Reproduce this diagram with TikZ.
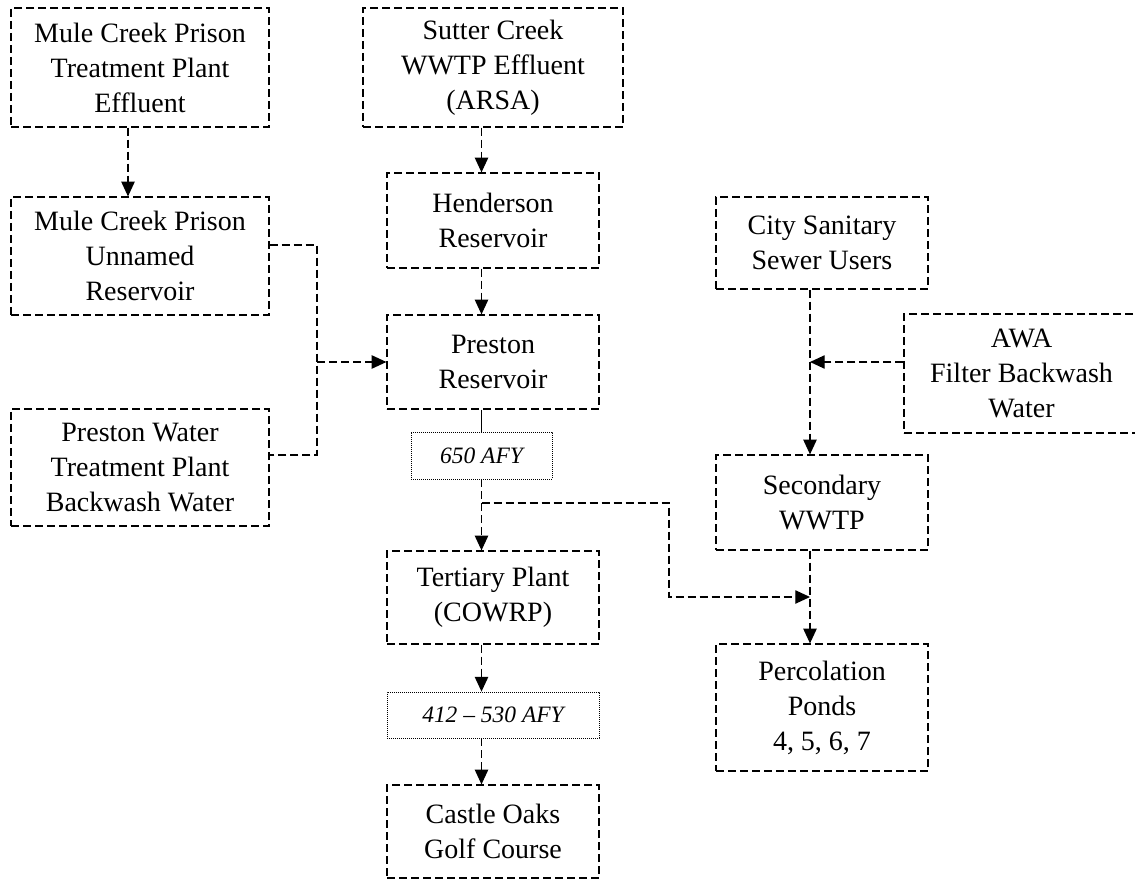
\documentclass[tikz,border=0pt]{standalone}
\usepackage{fontspec}
\setmainfont{Liberation Serif}
\usetikzlibrary{arrows.meta}
\begin{document}
\begin{tikzpicture}[x=0.75pt, y=-0.75pt,
	wh/.style 2 args = {minimum width=#1*0.75pt, minimum height=#2*0.75pt},
	box/.style = {draw, dash pattern=on 6pt off 3pt, line width=0.9pt, inner sep=0pt, align=center, font=\fontsize{21}{26.25}\selectfont},
	tag/.style = {draw, dash pattern=on 0.6pt off 0.9pt, line width=0.6pt, inner sep=0pt, font=\fontsize{17.6}{21}\selectfont\itshape},
	link/.style = {draw, dash pattern=on 6pt off 3pt, line width=0.9pt},
	flow/.style = {link, -{Triangle[length=11pt, width=10pt]}}]
			\useasboundingbox (0,0) rectangle (1135,880);
			\node[box, wh={258}{119}] (1) at (140,67.5) {Mule Creek Prison\\Treatment Plant\\Effluent};
			\node[box, wh={258}{118}] (2) at (140,256) {Mule Creek Prison\\Unnamed\\Reservoir};
			\node[box, wh={258}{117}] (3) at (140,467.5) {Preston Water\\Treatment Plant\\Backwash Water};
			\node[box, wh={260}{119}] (4) at (493,67.5) {Sutter Creek\\WWTP Effluent\\(ARSA)};
			\node[box, wh={212}{95}] (5) at (493,220.5) {Henderson\\Reservoir};
			\node[box, wh={212}{94}] (6) at (493,362) {Preston\\Reservoir};
			\node[tag, wh={141}{47}] (7) at (481.5,455.5) {650 AFY};
			\node[box, wh={212}{93}] (8) at (493,597.5) {Tertiary Plant\\(COWRP)};
			\node[tag, wh={212}{46}] (9) at (493,715) {412 – 530 AFY};
			\node[box, wh={212}{93}] (10) at (493,831.5) {Castle Oaks\\Golf Course};
			\node[box, wh={212}{92}] (11) at (822,243) {City Sanitary\\Sewer Users};
			\node[box, wh={235}{119}] (12) at (1021.5,373.5) {AWA\\Filter Backwash\\Water};
			\node[box, wh={212}{95}] (13) at (822,502.5) {Secondary\\WWTP};
			\node[box, wh={212}{127}] (14) at (822,707.5) {Percolation\\Ponds\\4, 5, 6, 7};
			\coordinate (a) at (128,0);
			\coordinate (b) at (481.5,0);
			\coordinate (c) at (810,0);
			\coordinate (j1) at (317,245);
			\coordinate (j2) at (317,455);
			\coordinate (j3) at (317,362);
			\coordinate (k1) at (481.5,503);
			\coordinate (k3) at (669,597);
			\coordinate (m) at (904,362);
			\draw[flow] (1.south -| a) -- (2.north -| a);
			\draw[link] (2.east |- j1) -- (j1) -- (j2) -- (3.east |- j2);
			\draw[flow] (j3) -- (6.west |- j3);
			\draw[flow] (4.south -| b) -- (5.north -| b);
			\draw[flow] (5.south -| b) -- (6.north -| b);
			\draw[line width=0.6pt] (6.south -| b) -- (7.north -| b);
			\draw[flow] (7.south -| b) -- (8.north -| b);
			\draw[flow] (k1) -| (k3) -- (c |- k3);
			\draw[flow] (8.south -| b) -- (9.north -| b);
			\draw[flow] (9.south -| b) -- (10.north -| b);
			\draw[flow] (11.south -| c) -- (13.north -| c);
			\draw[flow] (12.west |- m) -- (c |- m);
			\draw[flow] (13.south -| c) -- (14.north -| c);
		\end{tikzpicture}
\end{document}
